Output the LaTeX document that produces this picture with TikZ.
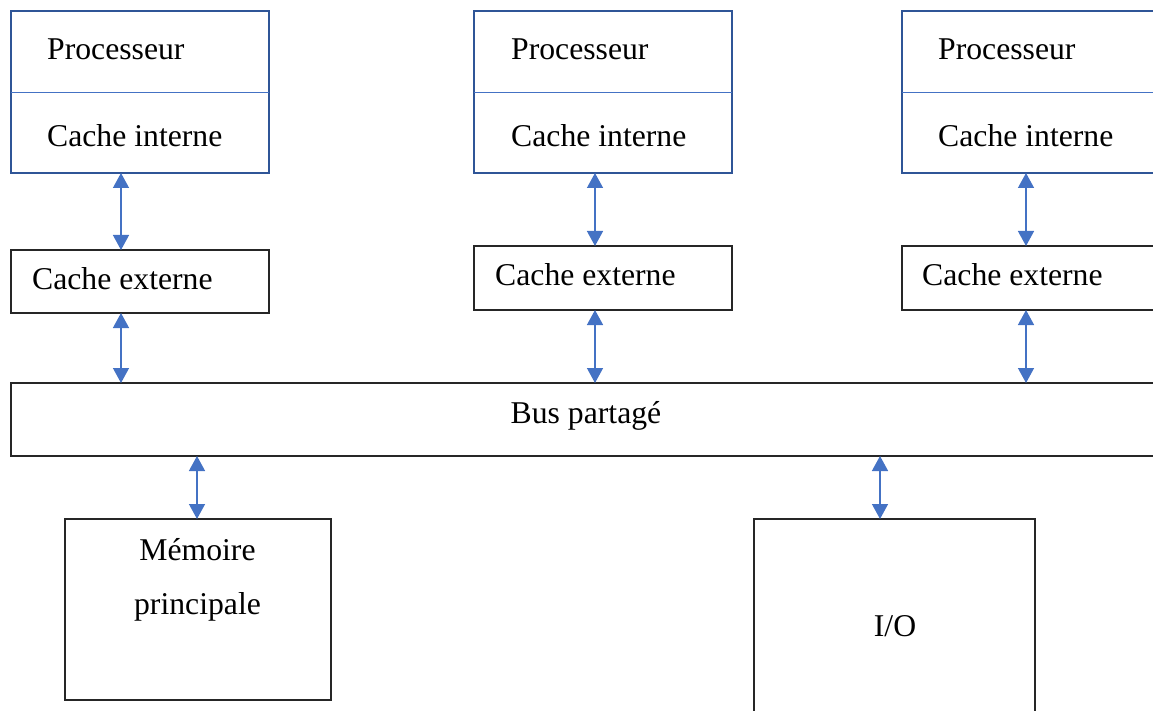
\documentclass[tikz,border=0pt]{standalone}
\usepackage{fontspec}
\setmainfont{Liberation Serif}
\usetikzlibrary{arrows.meta}
\definecolor{procblue}{HTML}{2F5597}
\definecolor{linkblue}{HTML}{4472C4}
\begin{document}
\begin{tikzpicture}[x=1pt,y=-1pt,
  box/.style={draw=black!85, line width=1.3pt, inner sep=0pt, outer sep=0pt, anchor=north west},
  procbox/.style={draw=procblue, line width=2.4pt, inner sep=0pt, outer sep=0pt, anchor=north west,
    minimum width=258pt, minimum height=162pt},
  divider/.style={draw=linkblue, line width=1pt},
  txt/.style={inner sep=0pt, anchor=base west, font=\fontsize{31.7}{38}\selectfont},
  ctxt/.style={txt, anchor=base},
  link/.style={draw=linkblue, line width=1.4pt,
    {Triangle[length=15pt,width=16pt]}-{Triangle[length=15pt,width=16pt]}}]
\useasboundingbox (0,0) rectangle (1153,711);
\clip (0,0) rectangle (1153,711);

% processors with their internal cache
\node[procbox] (p1) at (11,11) {};
\node[procbox] (p2) at (474,11) {};
\node[procbox, minimum width=280pt] (p3) at (902,11) {};
\coordinate (yd) at (0,93);
\foreach \p in {p1,p2,p3}
  \draw[divider] (\p.west |- yd) -- (\p.east |- yd);

\node[txt] (pr1) at (47,60) {Processeur};
\node[txt] (ci1) at (47,147) {Cache interne};
\node[txt] (pr2) at (511,60) {Processeur};
\node[txt] (ci2) at (511,147) {Cache interne};
\node[txt] (pr3) at (938,60) {Processeur};
\node[txt] (ci3) at (938,147) {Cache interne};

% external caches
\node[box, minimum width=258pt, minimum height=63pt] (ce1) at (11,250) {};
\node[box, minimum width=258pt, minimum height=64pt] (ce2) at (474,246) {};
\node[box, minimum width=280pt, minimum height=64pt] (ce3) at (902,246) {};
\node[txt] (ct1) at (32,289) {Cache externe};
\node[txt] (ct2) at (495,285) {Cache externe};
\node[txt] (ct3) at (922,285) {Cache externe};

% shared bus
\node[box, minimum width=1180pt, minimum height=73pt] (bus) at (11,383) {};
\node[ctxt] (bust) at (586,423) {Bus partagé};

% main memory and I/O
\node[box, minimum width=266pt, minimum height=181pt] (mem) at (65,519) {};
\node[ctxt] (memt1) at (197.5,560) {Mémoire};
\node[ctxt] (memt2) at (197.5,614) {principale};
\node[box, minimum width=281pt, minimum height=220pt] (io) at (754,519) {};
\node[ctxt] (iot) at (895,636) {I/O};

% bidirectional links
\coordinate (x1) at (121,0);
\coordinate (x2) at (595,0);
\coordinate (x3) at (1026,0);
\coordinate (xm) at (197,0);
\coordinate (xi) at (880,0);
\draw[link] (x1 |- p1.south) -- (x1 |- ce1.north);
\draw[link] (x1 |- ce1.south) -- (x1 |- bus.north);
\draw[link] (x2 |- p2.south) -- (x2 |- ce2.north);
\draw[link] (x2 |- ce2.south) -- (x2 |- bus.north);
\draw[link] (x3 |- p3.south) -- (x3 |- ce3.north);
\draw[link] (x3 |- ce3.south) -- (x3 |- bus.north);
\draw[link] (xm |- bus.south) -- (xm |- mem.north);
\draw[link] (xi |- bus.south) -- (xi |- io.north);
\end{tikzpicture}
\end{document}
